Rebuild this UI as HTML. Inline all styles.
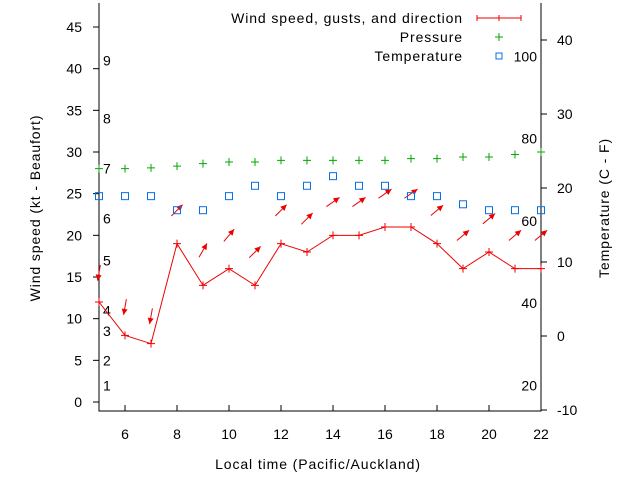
<!DOCTYPE html>
<html><head><meta charset="utf-8"><style>
body{margin:0;background:#fff}
svg{font-family:"Liberation Sans",sans-serif;font-size:14px}
.w{letter-spacing:0.9px}
</style></head><body>
<svg id="c" width="640" height="480">
<g id="axes"></g><g id="marks"></g>
<g>
<text class="w" x="463" y="23" text-anchor="end">Wind speed, gusts, and direction</text>
<line x1="477" y1="18" x2="521" y2="18" stroke="#e00"/>
<line x1="477" y1="15" x2="477" y2="21" stroke="#e00"/><line x1="521" y1="15" x2="521" y2="21" stroke="#e00"/><line x1="499" y1="15" x2="499" y2="21" stroke="#e00"/>
<text class="w" x="463" y="42" text-anchor="end">Pressure</text>
<path d="M495,37h8M499,33v8" stroke="#0a0"/>
<text class="w" x="463" y="61" text-anchor="end">Temperature</text>
<rect x="496" y="53" width="6" height="6" fill="none" stroke="#0a6fe6"/>
</g>
<text class="w" x="318" y="469" text-anchor="middle">Local time (Pacific/Auckland)</text>
<text class="w" transform="translate(40,208) rotate(-90)" text-anchor="middle">Wind speed (kt - Beaufort)</text>
<text class="w" transform="translate(609,208) rotate(-90)" text-anchor="middle">Temperature (C - F)</text>
</svg>
<script>
const hours=[5,6,7,8,9,10,11,12,13,14,15,16,17,18,19,20,21,22];
const wind=[12,8,7,19,14,16,14,19,18,20,20,21,21,19,16,18,16,16];
const gusts=[15.5,11.4,10.3,23,18.2,20,18,23,22,24,24,25,25,23,20,22,20,20];
const dirs=[-100,-100,-100,45,60,50,45,45,45,35,35,35,35,40,40,40,40,40];
const pressure=[28,28,28.1,28.3,28.6,28.8,28.8,29,29,29,29,29,29.2,29.2,29.4,29.4,29.7,30];
const temps=[18.9,18.9,18.9,17,17,18.9,20.3,18.9,20.3,21.6,20.3,20.3,18.9,18.9,17.8,17,17,17];
const xTicks=[6,8,10,12,14,16,18,20,22];
const yTicks=[0,5,10,15,20,25,30,35,40,45];
const y2Ticks=[-10,0,10,20,30,40];
const beaufort=[1,2,3,4,5,6,7,8,9];
const beaufortKt=[2,5,8.5,11,17,22,28,34,41];
const fahr=[20,40,60,80,100];
const NS='http://www.w3.org/2000/svg';
const X=h=>99+(h-5)*26;
const Y=v=>402-v*8.333;
const T=c=>336-c*7.4;
const ax=document.getElementById('axes'),mk=document.getElementById('marks');
function el(p,t,a,txt){const e=document.createElementNS(NS,t);for(const k in a)e.setAttribute(k,a[k]);if(txt!==undefined)e.textContent=txt;p.appendChild(e);return e;}
let e;
e=el(ax,'path',{d:'M99,3V411H541V3',fill:'none',stroke:'#000'});


xTicks.forEach(t=>{el(ax,'line',{x1:X(t),x2:X(t),y1:411,y2:405,stroke:'#000'});
e=el(ax,'text',{x:X(t),y:439,'text-anchor':'middle'},t);

});
yTicks.forEach(t=>{el(ax,'line',{x1:93,x2:99,y1:Y(t),y2:Y(t),stroke:'#000'});
e=el(ax,'text',{x:82,y:Y(t)+5,'text-anchor':'end'},t);

});
y2Ticks.forEach(t=>{el(ax,'line',{x1:541,x2:547,y1:T(t),y2:T(t),stroke:'#000'});
e=el(ax,'text',{x:557,y:T(t)+5},t);

});
beaufort.forEach((b,i)=>{e=el(ax,'text',{x:103,y:Y(beaufortKt[i])+5},b);

});
fahr.forEach(f=>{e=el(ax,'text',{x:537,y:T((f-32)*5/9)+5,'text-anchor':'end'},f);

});
e=el(mk,'polyline',{points:hours.map((h,i)=>X(h)+','+Y(wind[i])).join(' '),fill:'none',stroke:'#e00'});


hours.forEach((h,i)=>{
 const x=X(h),y=Y(wind[i]);
 e=el(mk,'path',{d:`M${x-4},${y}h8M${x},${y-4}v8`,stroke:'#e00'});
 
 
 const px=X(h),py=Y(gusts[i]),a=dirs[i]*Math.PI/180,L=16;
 const sx=px-L*Math.cos(a)*0.5,sy=py+L*Math.sin(a)*0.5,ex=px+L*Math.cos(a)*0.5,ey=py-L*Math.sin(a)*0.5;
 const hx=Math.cos(a),hy=-Math.sin(a);
 e=el(mk,'g',{});
 
 
 el(e,'line',{x1:sx,y1:sy,x2:ex,y2:ey,stroke:'#e00'});
 el(e,'polygon',{points:`${ex},${ey} ${ex-6*hx-3*hy},${ey-6*hy+3*hx} ${ex-6*hx+3*hy},${ey-6*hy-3*hx}`,fill:'#e00'});
 const qx=X(h),qy=Y(pressure[i]);
 e=el(mk,'path',{d:`M${qx-4},${qy}h8M${qx},${qy-4}v8`,stroke:'#0a0'});
 
 
 e=el(mk,'rect',{x:X(h)-3.5,y:T(temps[i])-3.5,width:7,height:7,fill:'none',stroke:'#0a6fe6'});
 
 
});
</script>
</body></html>
